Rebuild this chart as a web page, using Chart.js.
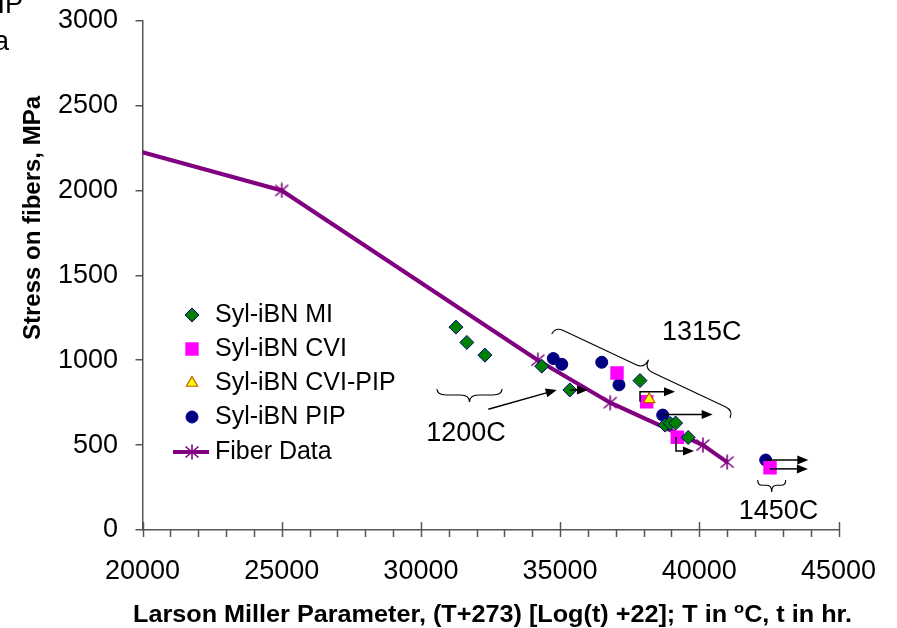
<!DOCTYPE html>
<html><head><meta charset="utf-8">
<script src="https://cdn.jsdelivr.net/npm/chart.js@4/dist/chart.umd.min.js"></script>
<style>html,body{margin:0;padding:0;background:#fff}canvas{display:block}</style>
</head><body>
<canvas id="c" width="897" height="628"></canvas>
<script>
// ---------- data ----------
const xTickValues = [20000, 25000, 30000, 35000, 40000, 45000];
const yTickValues = [0, 500, 1000, 1500, 2000, 2500, 3000];

const miX = [31260, 31650, 32300, 34340, 35350, 37870, 38770, 38950, 39150, 39600];
const miY = [1195, 1105, 1030, 965, 825, 880, 618, 628, 630, 545];

const cviX = [37045, 38110, 39210, 42540];
const cviY = [925, 755, 546, 367];

const cviPipX = [38200];
const cviPipY = [770];

const pipX = [34755, 35060, 36495, 37115, 38685, 42385];
const pipY = [1010, 976, 988, 855, 677, 412];

const fiberX = [20000, 25000, 34200, 36800, 40130, 41000];
const fiberY = [2225, 2000, 1000, 750, 500, 400];

const seriesNames = ['Syl-iBN MI', 'Syl-iBN CVI', 'Syl-iBN CVI-PIP', 'Syl-iBN PIP', 'Fiber Data'];

// run-out arrows (data coordinates, polylines ending in an arrowhead)
const runoutArrows = [
  [[35356, 825], [36000, 825]],
  [[37871, 756], [37871, 815], [39128, 815]],
  [[38685, 680], [40480, 680]],
  [[39164, 548], [39164, 465], [39810, 465]],
  [[42385, 412], [43916, 412]],
  [[42540, 360], [43900, 360]],
  [[32421, 711], [34878, 825]]
];
// temperature group braces: [x1, y1, x2, y2] in data coordinates
const braces = [
  [30578, 830, 32913, 830],
  [34698, 1154, 41103, 660],
  [42098, 295, 43103, 295]
];
const groupLabels = ['1200C', '1315C', '1450C'];
const groupLabelX = [31620, 40086, 42845];
const groupLabelY = [571, 1163, 108];

const xTitle = ['Larson Miller Parameter, (T+273) [Log(t) +22]; T in ', 'o', 'C, t in hr.'];
const yTitle = 'Stress on fibers, MPa';

// ---------- helpers ----------
const pts = (xs, ys) => xs.map((v, i) => ({x: v, y: ys[i]}));
const FONT = '"Liberation Sans", Arial, sans-serif';

// asterisk marker (vertical bar + X), like the original "star" marker
const starImg = (() => {
  const c = document.createElement('canvas');
  c.width = 16; c.height = 16;
  const g = c.getContext('2d');
  g.strokeStyle = '#800080'; g.lineWidth = 1.6; g.lineCap = 'butt';
  g.beginPath();
  g.moveTo(8, 0.5); g.lineTo(8, 15.5);
  g.moveTo(1.5, 2.5); g.lineTo(14.5, 13.5);
  g.moveTo(1.5, 13.5); g.lineTo(14.5, 2.5);
  g.stroke();
  return c;
})();

const datasets = [
  {label: seriesNames[0], data: pts(miX, miY), pointStyle: 'rectRot', pointRadius: 7,
   backgroundColor: '#008000', borderColor: '#000080', pointBorderWidth: 1, order: 1},
  {label: seriesNames[1], data: pts(cviX, cviY), pointStyle: 'rect', pointRadius: 9.5,
   backgroundColor: '#FF00FF', borderColor: '#FF00FF', pointBorderWidth: 0, order: 1},
  {label: seriesNames[2], data: pts(cviPipX, cviPipY), pointStyle: 'triangle', pointRadius: 6.5,
   backgroundColor: '#FFFF00', borderColor: '#C05800', pointBorderWidth: 1.2, order: 0},
  {label: seriesNames[3], data: pts(pipX, pipY), pointStyle: 'circle', pointRadius: 6,
   backgroundColor: '#000080', borderColor: '#000080', pointBorderWidth: 1, order: 1},
  {label: seriesNames[4], data: pts(fiberX, fiberY), showLine: true,
   pointStyle: fiberX.map((v, i) => i === 0 ? 'circle' : starImg),
   pointRadius: fiberX.map((v, i) => i === 0 ? 0 : 7), borderColor: '#800080', backgroundColor: '#800080',
   borderWidth: 4, pointBorderWidth: 1.5, pointBorderColor: '#800080', order: 5}
];

function arrowHead(ctx, ax, ay, bx, by) {
  const L = Math.hypot(bx - ax, by - ay);
  const ux = (bx - ax) / L, uy = (by - ay) / L;
  const hl = 11, hw = 4.5;
  ctx.beginPath();
  ctx.moveTo(bx, by);
  ctx.lineTo(bx - ux * hl - uy * hw, by - uy * hl + ux * hw);
  ctx.lineTo(bx - ux * hl + uy * hw, by - uy * hl - ux * hw);
  ctx.closePath();
  ctx.fill();
}

function drawBrace(ctx, x1, y1, x2, y2, depth, side) {
  const L = Math.hypot(x2 - x1, y2 - y1);
  const ux = (x2 - x1) / L, uy = (y2 - y1) / L;
  let nx = -uy * side, ny = ux * side;
  const h = depth * 0.45, r = Math.min(9, L / 6);
  const mx = (x1 + x2) / 2, my = (y1 + y2) / 2;
  const P = (bx, by, a, b) => [bx + ux * a + nx * b, by + uy * a + ny * b];
  ctx.beginPath();
  ctx.moveTo(x1, y1);
  let c = P(x1, y1, 0, h), e = P(x1, y1, r, h);
  ctx.quadraticCurveTo(c[0], c[1], e[0], e[1]);
  e = P(mx, my, -r, h); ctx.lineTo(e[0], e[1]);
  c = P(mx, my, 0, h); e = P(mx, my, 0, depth);
  ctx.quadraticCurveTo(c[0], c[1], e[0], e[1]);
  e = P(mx, my, r, h);
  ctx.quadraticCurveTo(c[0], c[1], e[0], e[1]);
  e = P(x2, y2, -r, h); ctx.lineTo(e[0], e[1]);
  c = P(x2, y2, 0, h);
  ctx.quadraticCurveTo(c[0], c[1], x2, y2);
  ctx.stroke();
}

const annotations = {
  id: 'annotations',
  afterDatasetsDraw(chart) {
    const {ctx, scales: {x, y}} = chart;
    ctx.save();
    ctx.strokeStyle = '#000'; ctx.fillStyle = '#000'; ctx.lineWidth = 1.5;
    runoutArrows.forEach(poly => {
      const P = poly.map(p => [x.getPixelForValue(p[0]), y.getPixelForValue(p[1])]);
      const n = P.length;
      const a = P[n - 2], b = P[n - 1];
      const L = Math.hypot(b[0] - a[0], b[1] - a[1]);
      const ex = b[0] - (b[0] - a[0]) / L * 8, ey = b[1] - (b[1] - a[1]) / L * 8;
      ctx.beginPath();
      ctx.moveTo(P[0][0], P[0][1]);
      for (let i = 1; i < n - 1; i++) ctx.lineTo(P[i][0], P[i][1]);
      ctx.lineTo(ex, ey);
      ctx.stroke();
      arrowHead(ctx, a[0], a[1], b[0], b[1]);
    });
    // braces
    ctx.lineWidth = 1.1;
    const depths = [13, 18, 12], sides = [1, -1, 1];
    braces.forEach((b, i) => {
      drawBrace(ctx, x.getPixelForValue(b[0]), y.getPixelForValue(b[1]),
        x.getPixelForValue(b[2]), y.getPixelForValue(b[3]), depths[i], sides[i]);
    });
    // group labels
    ctx.font = '27px ' + FONT;
    ctx.textAlign = 'center'; ctx.textBaseline = 'middle';
    groupLabels.forEach((t, i) => {
      ctx.fillText(t, x.getPixelForValue(groupLabelX[i]), y.getPixelForValue(groupLabelY[i]));
    });
    ctx.restore();
  },
  afterDraw(chart) {
    const {ctx, scales: {x, y}} = chart;
    ctx.save();
    // x-axis tick marks: majors cross the axis, minors below
    const y0 = y.getPixelForValue(0);
    ctx.strokeStyle = '#555'; ctx.lineWidth = 1.5;
    for (let v = x.min; v <= x.max; v += 1000) {
      const px = Math.round(x.getPixelForValue(v)) + 0.5;
      const major = v % 5000 === 0;
      ctx.beginPath();
      ctx.moveTo(px, major ? y0 - 8 : y0);
      ctx.lineTo(px, y0 + 7);
      ctx.stroke();
    }
    // axis titles
    ctx.fillStyle = '#000';
    ctx.textBaseline = 'alphabetic';
    const fBig = 'bold 23px ' + FONT, fSup = 'bold 15px ' + FONT;
    ctx.font = fBig;
    const w1 = ctx.measureText(xTitle[0]).width, w3 = ctx.measureText(xTitle[2]).width;
    ctx.font = fSup;
    const w2 = ctx.measureText(xTitle[1]).width;
    const total = w1 + w2 + w3;
    const targetW = 719, sx = targetW / total;
    ctx.save();
    ctx.translate(492.5 - targetW / 2, 622);
    ctx.scale(sx, 1);
    ctx.textAlign = 'left';
    ctx.font = fBig; ctx.fillText(xTitle[0], 0, 0);
    ctx.font = fSup; ctx.fillText(xTitle[1], w1, -9);
    ctx.font = fBig; ctx.fillText(xTitle[2], w1 + w2, 0);
    ctx.restore();

    ctx.save();
    ctx.translate(33, 218);
    ctx.rotate(-Math.PI / 2);
    ctx.textAlign = 'center'; ctx.textBaseline = 'middle';
    ctx.font = 'bold 24px ' + FONT;
    ctx.fillText(yTitle, 0, 0);
    ctx.restore();

    // clipped text at the top-left edge
    ctx.font = '27px ' + FONT;
    ctx.textAlign = 'right'; ctx.textBaseline = 'alphabetic';
    ctx.fillText('IP', 23, 13);
    ctx.fillText('a', 9, 50);

    // legend
    const lx = 192, tx = 215, rows = [315, 349, 383, 417, 452];
    ctx.font = '25px ' + FONT;
    ctx.textAlign = 'left'; ctx.textBaseline = 'middle';
    chart.data.datasets.forEach((ds, i) => {
      const ly = rows[i];
      if (ds.showLine) {
        ctx.strokeStyle = ds.borderColor; ctx.lineWidth = ds.borderWidth;
        ctx.beginPath(); ctx.moveTo(lx - 19, ly); ctx.lineTo(lx + 17, ly); ctx.stroke();
      }
      ctx.fillStyle = ds.backgroundColor;
      ctx.strokeStyle = ds.pointBorderColor || ds.borderColor;
      ctx.lineWidth = ds.pointBorderWidth;
      const r = Array.isArray(ds.pointRadius) ? ds.pointRadius[1] : ds.pointRadius;
      const style = Array.isArray(ds.pointStyle) ? ds.pointStyle[1] : ds.pointStyle;
      Chart.helpers.drawPoint(ctx, {pointStyle: style, radius: r, rotation: 0, borderWidth: ds.pointBorderWidth}, lx, ly);
      ctx.fillStyle = '#000';
      ctx.fillText(ds.label, tx, ly);
    });
    ctx.restore();
  }
};

new Chart(document.getElementById('c'), {
  type: 'scatter',
  data: {datasets},
  options: {
    responsive: false,
    animation: false,
    events: [],
    devicePixelRatio: 1,
    layout: {autoPadding: false, padding: {left: 0, right: 58.5, top: 20.7, bottom: 0}},
    plugins: {legend: {display: false}, tooltip: {enabled: false}},
    scales: {
      x: {
        type: 'linear', min: 20000, max: 45000,
        afterFit: s => { s.height = 98; s.paddingLeft = 0; s.paddingRight = 0; },
        afterBuildTicks: s => { s.ticks = xTickValues.map(v => ({value: v})); },
        ticks: {padding: 18, color: '#000', font: {family: FONT, size: 27}, callback: v => String(v), maxRotation: 0, autoSkip: false},
        grid: {drawOnChartArea: false, drawTicks: true, tickLength: 7, color: 'rgba(0,0,0,0)'},
        border: {display: true, color: '#555', width: 1.5}
      },
      y: {
        type: 'linear', min: 0, max: 3000,
        afterFit: s => { s.width = 142.5; s.paddingTop = 0; s.paddingBottom = 0; },
        afterBuildTicks: s => { s.ticks = yTickValues.map(v => ({value: v})); },
        ticks: {padding: 17.5, color: '#000', font: {family: FONT, size: 27}, callback: v => String(v), autoSkip: false},
        grid: {drawOnChartArea: false, drawTicks: true, tickLength: 7, color: '#555', lineWidth: 1.5},
        border: {display: true, color: '#555', width: 1.5}
      }
    }
  },
  plugins: [annotations]
});
</script>
</body></html>
